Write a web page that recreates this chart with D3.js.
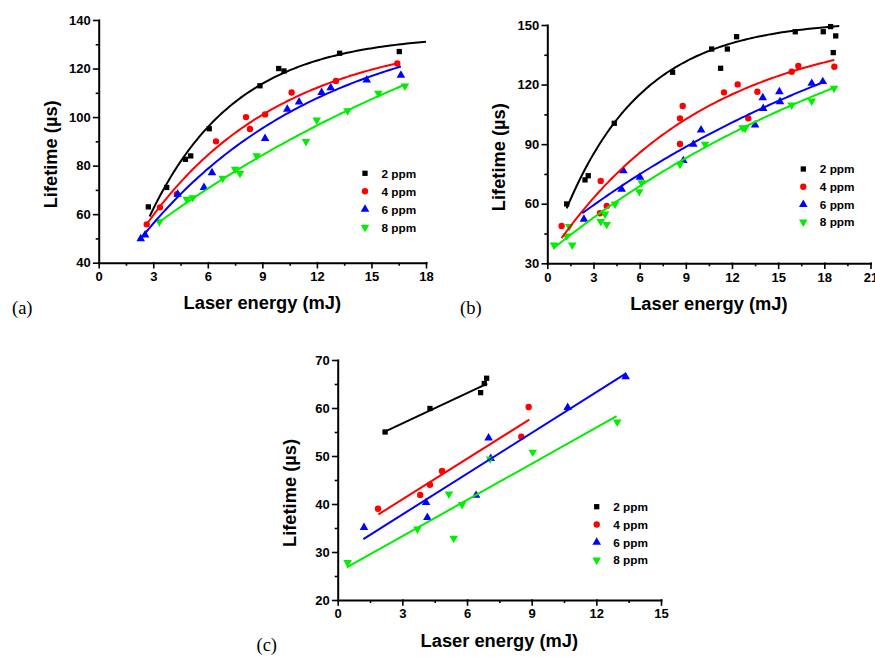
<!DOCTYPE html>
<html>
<head>
<meta charset="utf-8">
<script src="https://cdn.jsdelivr.net/npm/d3@7"></script>
<style>
  body { margin: 0; background: #fff; }
  svg { display: block; }
</style>
</head>
<body>
<script>
// ---- Series shared by all three panels ----
const seriesNames = ["2 ppm", "4 ppm", "6 ppm", "8 ppm"];
const seriesColors = ["#000000", "#ff0000", "#0000ff", "#00ee00"];

// ---- Panel (a): measured lifetime (µs) vs laser energy (mJ) ----
const a2ppm = [[2.73,63],[3.74,71],[4.77,82.6],[5.06,84],[6.08,95.2],[8.87,112.9],[9.9,120],[10.19,119],[13.25,126.3],[16.53,127]];
const a4ppm = [[2.64,55.8],[3.37,62.8],[4.3,68.2],[6.45,90],[8.1,100],[8.32,95.1],[9.15,101.1],[10.61,110.1],[13.05,114.9],[16.42,122.1]];
const a6ppm = [[2.31,49.9],[2.55,51.4],[4.34,68.2],[5.79,71],[6.23,77.1],[9.15,91.2],[10.37,103.2],[11.02,106.2],[12.26,110.1],[12.76,112.1],[14.74,115.3],[16.62,117.2]];
const a8ppm = [[3.34,56.9],[4.84,66.1],[5.17,66.8],[6.82,74.8],[7.5,78.5],[7.77,76.8],[8.69,84.1],[11.4,89.9],[11.99,98.8],[13.69,102.6],[15.38,109.8],[16.84,112.8]];
// exponential-growth fits y = c - A·exp(-x/t) : [c, A, t, xStart, xEnd]
const aFits = [[134.1,135.3,4.75,2.8,18],[134.7,112.1,7.5,2.64,16.42],[143.1,117.4,10,2.31,16.62],[192.3,154.8,25,3.34,16.84]];
const aXTicks = [0,3,6,9,12,15,18];
const aYTicks = [40,60,80,100,120,140];

// ---- Panel (b) ----
const b2ppm = [[1.26,59.9],[2.45,72],[2.66,74.1],[4.35,100.5],[8.14,126.2],[10.68,137.9],[11.26,128.2],[11.7,137.9],[12.3,144.1],[16.11,146.6],[17.93,146.6],[18.41,149.2],[18.58,136.1],[18.74,144.5]];
const b4ppm = [[0.93,48.8],[3.47,71.5],[3.42,55.2],[3.86,58.9],[8.62,103],[8.8,109.2],[8.62,90.1],[11.48,116.1],[12.37,120.1],[13.06,103],[13.65,116.4],[15.88,126.5],[16.31,129.4],[18.65,129]];
const b6ppm = [[2.38,52.2],[4.83,67.3],[4.94,76.6],[6.02,73.3],[8.84,81.7],[9.49,89.9],[9.99,97.1],[13.5,99.6],[14.0,113.4],[14.03,108],[15.08,116.4],[15.12,111.4],[17.18,120.6],[17.9,121.5]];
const b8ppm = [[0.44,39.2],[1.26,43.8],[1.43,48.5],[1.62,39.2],[3.47,51],[3.86,49.6],[3.75,54.8],[4.4,59.9],[5.98,66.1],[6.13,70.6],[8.62,79.9],[10.25,89.9],[12.7,98.3],[12.85,98],[15.88,109.7],[17.18,111.7],[18.63,118.1]];
const bFits = [[152.4,121.3,5.1,1.26,18.97],[150.8,118.7,10,0.93,18.65],[196.9,155.2,25,2.27,18.04],[193.7,158.7,25,0.39,18.69]];
const bXTicks = [0,3,6,9,12,15,18,21];
const bYTicks = [30,60,90,120,150];

// ---- Panel (c) ----
const c2ppm = [[2.2,55],[4.28,59.9],[6.63,63.2],[6.8,65.1],[6.91,66.2]];
const c4ppm = [[1.87,39],[3.83,41.9],[4.28,44],[4.84,46.9],[8.52,54],[8.86,60.2]];
const c6ppm = [[1.22,35.1],[4.1,40.3],[4.16,37.2],[6.42,41.8],[7.0,53.75],[7.1,49.5],[10.67,60.1],[13.36,66.5]];
const c8ppm = [[0.46,27.8],[3.7,34.8],[5.38,32.85],[5.16,42.1],[5.77,39.9],[7.07,49.4],[9.05,50.8],[12.97,57.1]];
// linear fits y = a + b·x : [a, b, xStart, xEnd]
const cFits = [[50.5,2.1,2.09,6.94],[32.5,2.82,1.89,8.89],[29.3,2.835,1.19,13.36],[25.74,2.516,0.42,12.94]];
const cXTicks = [0,3,6,9,12,15];
const cYTicks = [20,30,40,50,60,70];

const W = 875, H = 657;
const svg = d3.select("body").append("svg").attr("width", W).attr("height", H);

const FONT = "'Liberation Sans', Arial, sans-serif";

// marker shapes: square, circle, up-triangle, down-triangle
const markerPath = [
  d3.symbol(d3.symbolSquare, 28)(),
  d3.symbol(d3.symbolCircle, 32)(),
  d3.symbol(d3.symbolTriangle, 32)(),
  d3.symbol(d3.symbolTriangle, 32)()
];
const markerRotate = [0, 0, 0, 180];

function expFit(f) {
  const [c, A, t, x0, x1] = f;
  return d3.range(0, 101).map(i => {
    const x = x0 + (x1 - x0) * i / 100;
    return [x, c - A * Math.exp(-x / t)];
  });
}
function linFit(f) {
  const [a, b, x0, x1] = f;
  return [[x0, a + b * x0], [x1, a + b * x1]];
}

function drawPanel(p) {
  const x = d3.scaleLinear().domain(p.xDomain).range([p.left, p.right]);
  const y = d3.scaleLinear().domain(p.yDomain).range([p.bottom, p.top]);
  const g = svg.append("g");

  const xStep = p.xTicks[1] - p.xTicks[0];
  const yStep = p.yTicks[1] - p.yTicks[0];
  const xMinor = p.xTicks.slice(0, -1).map(v => v + xStep / 2);
  const yMinor = p.yTicks.slice(0, -1).map(v => v + yStep / 2);

  // minor ticks
  g.append("g").attr("transform", `translate(0,${p.bottom})`)
    .call(d3.axisBottom(x).tickValues(xMinor).tickSize(3).tickSizeOuter(0).tickFormat(""))
    .call(s => s.select(".domain").remove());
  g.append("g").attr("transform", `translate(${p.left},0)`)
    .call(d3.axisLeft(y).tickValues(yMinor).tickSize(3).tickSizeOuter(0).tickFormat(""))
    .call(s => s.select(".domain").remove());

  // major axes
  const xa = g.append("g").attr("transform", `translate(0,${p.bottom})`)
    .call(d3.axisBottom(x).tickValues(p.xTicks).tickSize(5).tickSizeOuter(0).tickPadding(4).tickFormat(d3.format("d")));
  const ya = g.append("g").attr("transform", `translate(${p.left},0)`)
    .call(d3.axisLeft(y).tickValues(p.yTicks).tickSize(5).tickSizeOuter(0).tickPadding(3).tickFormat(d3.format("d")));
  [xa, ya].forEach(a => {
    a.selectAll("path, line").attr("stroke", "#000").attr("stroke-width", 2).attr("stroke-linecap", "square");
    a.selectAll("text").attr("font-family", FONT).attr("font-weight", "bold").attr("font-size", 13).attr("fill", "#000");
  });
  g.selectAll("g.tick line").attr("stroke", "#000").attr("stroke-width", 1.6);

  // data markers
  p.series.forEach((pts, i) => {
    g.append("g").selectAll("path").data(pts).join("path")
      .attr("d", markerPath[i])
      .attr("transform", d => `translate(${x(d[0])},${y(d[1])}) rotate(${markerRotate[i]})`)
      .attr("fill", seriesColors[i]);
  });

  // fit curves
  const line = d3.line().x(d => x(d[0])).y(d => y(d[1]));
  p.fits.forEach((f, i) => {
    g.append("path").datum(p.fitFn(f))
      .attr("d", line).attr("fill", "none")
      .attr("stroke", seriesColors[i]).attr("stroke-width", 2);
  });

  // legend
  seriesNames.forEach((name, i) => {
    const ly = p.legend.y + i * p.legend.dy;
    g.append("path").attr("d", markerPath[i])
      .attr("transform", `translate(${p.legend.x},${ly}) rotate(${markerRotate[i]})`)
      .attr("fill", seriesColors[i]);
    g.append("text").attr("x", p.legend.x + 16.5).attr("y", ly).attr("dy", "0.36em")
      .attr("font-family", FONT).attr("font-weight", "bold").attr("font-size", 11.8)
      .text(name);
  });

  // axis titles
  g.append("text")
    .attr("transform", `translate(${p.left - 48.5},${(p.top + p.bottom) / 2 + 13}) rotate(-90)`)
    .attr("text-anchor", "middle").attr("dy", "0.36em")
    .attr("font-family", FONT).attr("font-weight", "bold").attr("font-size", 18.3)
    .text("Lifetime (µs)");
  g.append("text")
    .attr("x", (p.left + p.right) / 2).attr("y", p.bottom + 46.5)
    .attr("text-anchor", "middle")
    .attr("font-family", FONT).attr("font-weight", "bold").attr("font-size", 18.3)
    .text("Laser energy (mJ)");

  // panel tag
  svg.append("text").attr("x", p.tag.x).attr("y", p.tag.y)
    .attr("font-family", "'Liberation Serif', 'Times New Roman', serif").attr("font-size", 18.5)
    .text(p.tag.text);
}

drawPanel({
  left: 98.7, right: 426, top: 20, bottom: 262.7,
  xDomain: [0, 18], yDomain: [40, 140], xTicks: aXTicks, yTicks: aYTicks,
  series: [a2ppm, a4ppm, a6ppm, a8ppm], fits: aFits, fitFn: expFit,
  legend: { x: 365, y: 173.3, dy: 18 },
  tag: { text: "(a)", x: 12, y: 314 }
});
drawPanel({
  left: 547.3, right: 870.5, top: 25, bottom: 263.3,
  xDomain: [0, 21], yDomain: [30, 150], xTicks: bXTicks, yTicks: bYTicks,
  series: [b2ppm, b4ppm, b6ppm, b8ppm], fits: bFits, fitFn: expFit,
  legend: { x: 803.3, y: 169, dy: 17.7 },
  tag: { text: "(b)", x: 460, y: 314 }
});
drawPanel({
  left: 337.7, right: 661, top: 360, bottom: 600,
  xDomain: [0, 15], yDomain: [20, 70], xTicks: cXTicks, yTicks: cYTicks,
  series: [c2ppm, c4ppm, c6ppm, c8ppm], fits: cFits, fitFn: linFit,
  legend: { x: 596.7, y: 506.7, dy: 17.8 },
  tag: { text: "(c)", x: 256.5, y: 651 }
});
</script>
</body>
</html>
